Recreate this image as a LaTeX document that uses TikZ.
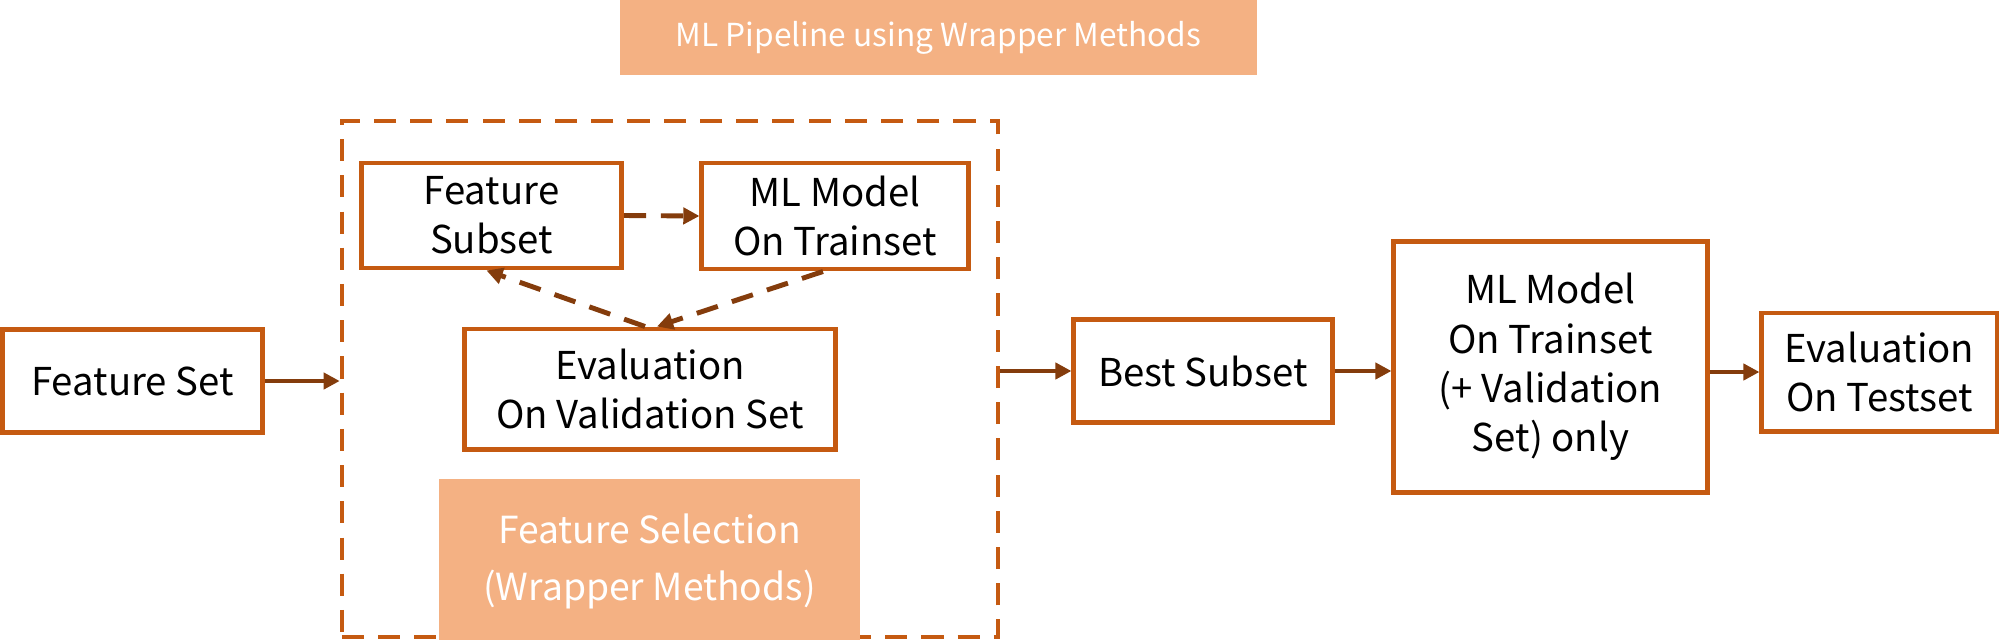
\documentclass[tikz,border=0pt]{standalone}
\usepackage{fontspec}
\setmainfont{Noto Sans CJK SC}
\usepackage{xcolor}
\definecolor{burntorange}{HTML}{C55A11}
\definecolor{darkbrown}{HTML}{843C0C}
\definecolor{peach}{HTML}{F4B183}
\usetikzlibrary{arrows.meta}

\begin{document}
\begin{tikzpicture}[x=0.01cm, y=-0.01cm,
  box/.style={draw=burntorange, line width=1.4pt, fill=white, align=center, inner sep=0pt,
    font=\fontsize{10.9}{14}\selectfont},
  banner/.style={fill=peach, text=white, align=center, inner sep=0pt},
  link/.style={darkbrown, line width=1.4pt, -{Triangle[length=4.6pt,width=4.6pt]}},
  dashlink/.style={link, dash pattern=on 6.3pt off 4.2pt}]
  \useasboundingbox (0,0) rectangle (1999,639);

  % Coordinates
  \coordinate (T) at (938.5, 37.5);
  \coordinate (W) at (670, 379);
  \coordinate (S) at (649.5, 561);
  \coordinate (A) at (491.5, 215.5);
  \coordinate (B) at (835, 216);
  \coordinate (C) at (650, 389);
  \coordinate (D) at (132.5, 381);
  \coordinate (E) at (1203, 371);
  \coordinate (F) at (1550.5, 367);
  \coordinate (G) at (1879.5, 372);

  % Nodes
  \node[banner, minimum width=6.37cm, minimum height=0.75cm,
    font=\fontsize{9}{11}\selectfont] (title) at (T) {ML Pipeline using Wrapper Methods};
  \node[draw=burntorange, line width=1.2pt, dash pattern=on 6.3pt off 4pt,
    minimum width=6.56cm, minimum height=5.16cm] (wrap) at (W) {};
  \node[banner, minimum width=4.21cm, minimum height=1.64cm,
    font=\fontsize{10.6}{16.2}\selectfont] (fsel) at (S) {Feature Selection\\(Wrapper Methods)};
  \node[box, minimum width=2.6cm, minimum height=1.05cm] (fsub) at (A) {Feature\\Subset};
  \node[box, minimum width=2.66cm, minimum height=1.06cm] (mltrain) at (B) {ML Model\\On Trainset};
  \node[box, minimum width=3.7cm, minimum height=1.2cm] (evalval) at (C) {Evaluation\\On Validation Set};
  \node[box, minimum width=2.6cm, minimum height=1.03cm] (fset) at (D) {Feature Set};
  \node[box, minimum width=2.58cm, minimum height=1.03cm] (best) at (E) {Best Subset};
  \node[box, minimum width=3.13cm, minimum height=2.5cm] (mlfinal) at (F) {ML Model\\On Trainset\\(+ Validation\\Set) only};
  \node[box, minimum width=2.35cm, minimum height=1.18cm] (evaltest) at (G) {Evaluation\\On Testset};

  % Drawing
  \draw[link] (fset.east) -- (fset.east -| wrap.west);
  \draw[link] (best.west -| wrap.east) -- (best.west);
  \draw[link] (best.east) -- (best.east -| mlfinal.west);
  \draw[link] (mlfinal.east |- evaltest.west) -- (evaltest.west);
  \draw[dashlink] (fsub.east) -- (mltrain.west);
  \draw[dashlink] ([xshift=-0.12cm]mltrain.south) -- ([xshift=0.07cm]evalval.north);
  \draw[dashlink] ([xshift=-0.05cm]evalval.north) -- ([xshift=-0.05cm]fsub.south);
\end{tikzpicture}
\end{document}
